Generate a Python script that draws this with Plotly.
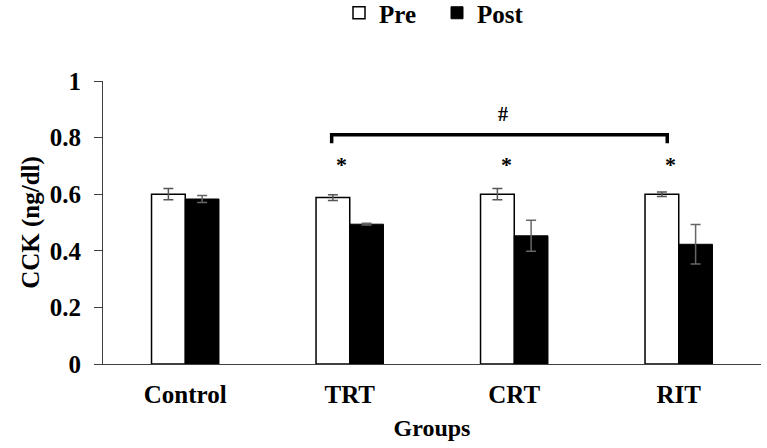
import plotly.graph_objects as go

groups = ["Control", "TRT", "CRT", "RIT"]
pre = [0.600, 0.588, 0.600, 0.600]
pre_err = [0.020, 0.010, 0.020, 0.008]
post = [0.583, 0.494, 0.453, 0.423]
post_err = [0.012, 0.003, 0.055, 0.070]
star_groups = ["TRT", "CRT", "RIT"]

FONT = "Liberation Serif"

fig = go.Figure()
fig.add_trace(go.Bar(
    name="<b>Pre</b>", x=groups, y=pre,
    marker=dict(color="white", line=dict(color="black", width=1.5)),
    error_y=dict(type="data", array=pre_err, color="#555555", thickness=1.5, width=5),
))
fig.add_trace(go.Bar(
    name="<b>Post</b>", x=groups, y=post,
    marker=dict(color="black", line=dict(color="black", width=1)),
    error_y=dict(type="data", array=post_err, color="#666666", thickness=1.5, width=5),
))

# significance asterisks
for g in star_groups:
    i = groups.index(g)
    fig.add_annotation(x=i - 0.05, y=0.705, xref="x", yref="y", text="<b>*</b>",
                       showarrow=False, font=dict(family=FONT, size=22, color="black"))

# bracket with '#'
x0, x1 = 0.89, 2.93
yb, yt = 0.78, 0.81
fig.add_shape(type="path", xref="x", yref="y",
              path=f"M {x0},{yb} L {x0},{yt} L {x1},{yt} L {x1},{yb}",
              line=dict(color="black", width=3.5))
fig.add_annotation(x=1.93, y=0.885, xref="x", yref="y", text="<b>#</b>",
                   showarrow=False, font=dict(family=FONT, size=20, color="black"))

fig.update_layout(
    width=767, height=448,
    margin=dict(l=103, r=6, t=81, b=84, autoexpand=False),
    paper_bgcolor="white", plot_bgcolor="white",
    barmode="group", bargap=0.59, bargroupgap=0,
    font=dict(family=FONT, size=24, color="black"),
    legend=dict(orientation="h", xref="container", x=339 / 767, xanchor="left",
                yref="container", y=1 - 13 / 448, yanchor="middle",
                font=dict(family=FONT, size=25, color="black"),
                entrywidth=53, entrywidthmode="pixels",
                itemwidth=30, traceorder="normal", borderwidth=0),
    showlegend=True,
)
fig.update_xaxes(
    showline=True, linecolor="#404040", linewidth=1.2,
    tickfont=dict(family=FONT, size=25, color="black"),
    title=dict(text="<b>Groups</b>", font=dict(family=FONT, size=24, color="black"), standoff=12),
    ticks="", tickprefix="<b>", ticksuffix="</b>", ticklabelstandoff=8,
)
fig.update_yaxes(
    range=[0, 1], tickvals=[0, 0.2, 0.4, 0.6, 0.8, 1],
    ticktext=["<b>0</b>", "<b>0.2</b>", "<b>0.4</b>", "<b>0.6</b>", "<b>0.8</b>", "<b>1</b>"],
    showline=True, linecolor="#404040", linewidth=1.2,
    ticks="outside", ticklen=8, tickcolor="#404040",
    showgrid=False, zeroline=False, ticklabelstandoff=8,
    tickfont=dict(family=FONT, size=25, color="black"),
    title=dict(text="<b>CCK (ng/dl)</b>", font=dict(family=FONT, size=25, color="black"), standoff=2),
)

fig.write_html("out.html", post_script="document.body.style.margin='0';",
               config={"displayModeBar": False})
